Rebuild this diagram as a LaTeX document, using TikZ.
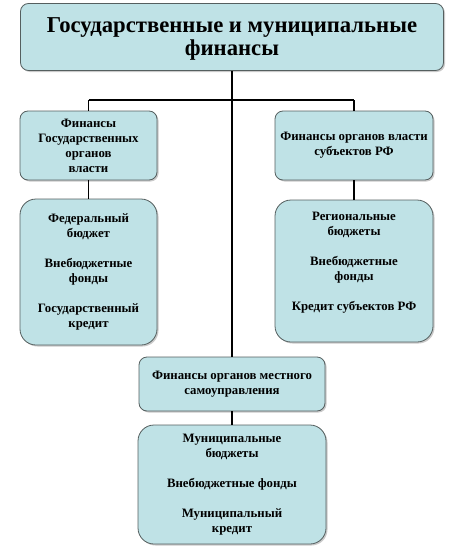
\documentclass[tikz,border=0pt]{standalone}
\usepackage{fontspec}
\setmainfont{Liberation Serif}
\usetikzlibrary{shadows}
\definecolor{boxfill}{RGB}{191,226,230}
\definecolor{boxline}{RGB}{85,95,95}
\begin{document}
\begin{tikzpicture}[x=1pt,y=1pt,
  box/.style={draw=boxline, line width=0.8pt, fill=boxfill, align=center, inner sep=2pt,
    font=\bfseries\fontsize{12.8}{15}\selectfont,
    drop shadow={shadow xshift=1.5pt, shadow yshift=-1.5pt, fill=black!35, opacity=0.6}},
  small/.style={box, rounded corners=8pt},
  big/.style={box, rounded corners=16pt},
  txt/.style={align=center, font=\bfseries\fontsize{12.8}{15}\selectfont},
  conn/.style={line width=1.8pt, black}]
\useasboundingbox (0,0) rectangle (474,-546);
\node[small, minimum width=423pt, minimum height=67pt] (T) at (232,-37) {};
\node[txt, font=\bfseries\fontsize{22.7}{23}\selectfont] (Tt) at (232,-38.5)
  {Государственные и муниципальные\\финансы};
\node[small, minimum width=137pt, minimum height=69pt] (L1) at (88.5,-145.5)
  {Финансы\\Государственных\\органов\\власти};
\node[big, minimum width=137pt, minimum height=146pt] (L2) at (88.5,-272)
  {Федеральный\\бюджет\\[15pt]Внебюджетные\\фонды\\[15pt]Государственный\\кредит};
\node[small, minimum width=158pt, minimum height=69pt] (R1) at (354,-145.5)
  {Финансы органов власти\\субъектов РФ};
\node[big, minimum width=158pt, minimum height=142pt] (R2) at (354,-271) {};
\node[txt] (R2t) at (354,-263) {Региональные\\бюджеты\\[15pt]Внебюджетные\\фонды\\[15pt]Кредит субъектов РФ};
\node[small, minimum width=186pt, minimum height=54pt] (B1) at (232,-384)
  {Финансы органов местного\\самоуправления};
\node[big, minimum width=188pt, minimum height=119pt] (B2) at (232,-484.5)
  {Муниципальные\\бюджеты\\[15pt]Внебюджетные фонды\\[15pt]Муниципальный\\кредит};
\coordinate (jL) at (88.5,-100);
\coordinate (jR) at (354,-100);
\draw[conn] (T.south) -- (B1.north);
\draw[conn] (jL) -- (jR);
\draw[conn] (jL) -- (L1.north);
\draw[conn] (jR) -- (R1.north);
\draw[conn] (L1.south) -- (L2.north);
\draw[conn] (R1.south) -- (R2.north);
\draw[conn] (B1.south) -- (B2.north);
\end{tikzpicture}
\end{document}
